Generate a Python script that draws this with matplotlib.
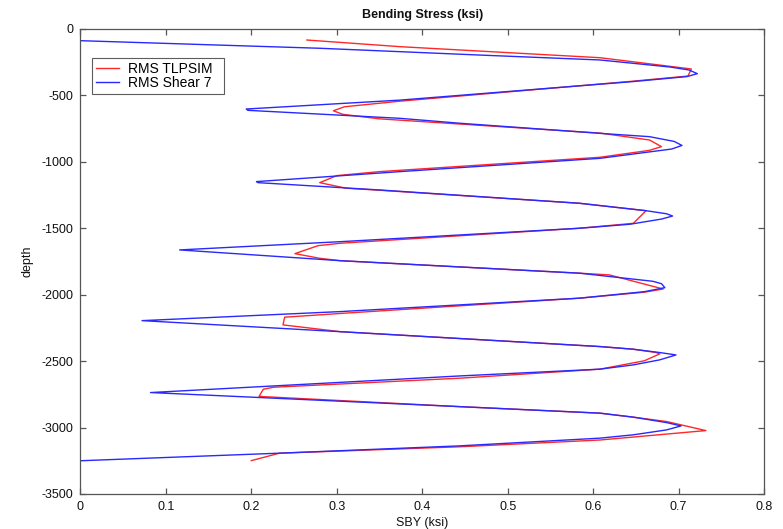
import matplotlib
matplotlib.use("Agg")
import matplotlib.pyplot as plt

plt.rcParams["font.family"] = ["Liberation Sans", "DejaVu Sans"]
plt.rcParams["axes.unicode_minus"] = False

# RMS bending stress profile from Shear 7
shear7_sby = [0.000, 0.280, 0.467, 0.608, 0.690, 0.712, 0.722, 0.710, 0.646, 0.374,
              0.194, 0.196, 0.374, 0.444, 0.608, 0.666, 0.695, 0.704, 0.692, 0.608,
              0.374, 0.206, 0.208, 0.350, 0.584, 0.662, 0.686, 0.693, 0.680, 0.643,
              0.584, 0.304, 0.116, 0.304, 0.584, 0.670, 0.680, 0.684, 0.660, 0.584,
              0.304, 0.072, 0.304, 0.608, 0.647, 0.678, 0.697, 0.678, 0.647, 0.608,
              0.444, 0.082, 0.444, 0.608, 0.647, 0.686, 0.703, 0.686, 0.647, 0.608,
              0.444, 0.233, 0.000]
shear7_depth = [-90, -147, -198, -235, -288, -310, -338, -360, -398, -537,
                -604, -614, -674, -711, -787, -812, -848, -878, -905, -975,
                -1075, -1150, -1158, -1213, -1313, -1369, -1392, -1409, -1432, -1471,
                -1501, -1602, -1664, -1745, -1839, -1900, -1918, -1948, -1978, -2027,
                -2128, -2196, -2279, -2391, -2411, -2436, -2454, -2491, -2529, -2561,
                -2612, -2737, -2843, -2892, -2922, -2963, -2988, -3018, -3055, -3080,
                -3138, -3193, -3250]

# RMS bending stress profile from TLPSIM
tlpsim_sby = [0.265, 0.374, 0.608, 0.709, 0.715, 0.711, 0.646, 0.374, 0.309, 0.296,
              0.307, 0.350, 0.608, 0.666, 0.680, 0.666, 0.608, 0.350, 0.300, 0.280,
              0.311, 0.350, 0.584, 0.662, 0.647, 0.584, 0.304, 0.278, 0.251, 0.280,
              0.304, 0.584, 0.619, 0.682, 0.660, 0.584, 0.309, 0.239, 0.237, 0.304,
              0.608, 0.647, 0.674, 0.678, 0.660, 0.608, 0.444, 0.226, 0.214, 0.209,
              0.444, 0.608, 0.647, 0.686, 0.732, 0.608, 0.444, 0.233, 0.200]
tlpsim_depth = [-85, -135, -218, -298, -303, -356, -395, -545, -587, -617,
                -644, -678, -785, -837, -887, -915, -967, -1075, -1105, -1158,
                -1200, -1215, -1313, -1369, -1464, -1501, -1614, -1632, -1692, -1727,
                -1745, -1839, -1852, -1958, -1982, -2027, -2140, -2170, -2228, -2279,
                -2391, -2411, -2436, -2446, -2498, -2561, -2629, -2697, -2712, -2766,
                -2843, -2892, -2922, -2955, -3023, -3094, -3145, -3193, -3249]

x_ticks = [0, 0.1, 0.2, 0.3, 0.4, 0.5, 0.6, 0.7, 0.8]
x_tick_labels = ["0", "0.1", "0.2", "0.3", "0.4", "0.5", "0.6", "0.7", "0.8"]
y_ticks = [0, -500, -1000, -1500, -2000, -2500, -3000, -3500]
y_tick_labels = ["0", "-500", "-1000", "-1500", "-2000", "-2500", "-3000", "-3500"]

fig = plt.figure(figsize=(7.83, 5.29), dpi=100)
ax = fig.add_axes([0.1028, 0.0662, 0.8729, 0.8795])

ax.plot(tlpsim_sby, tlpsim_depth, color="#ff2828", lw=1.0, label="RMS TLPSIM  ")
ax.plot(shear7_sby, shear7_depth, color="#2828ff", lw=1.0, label="RMS Shear 7  ")

ax.set_xlim(0, 0.8)
ax.set_ylim(-3500, 0)
ax.set_xticks(x_ticks)
ax.set_xticklabels(x_tick_labels)
ax.set_yticks(y_ticks)
ax.set_yticklabels(y_tick_labels)

frame_color = "#555555"
for sp in ax.spines.values():
    sp.set_color(frame_color)
    sp.set_linewidth(0.9)
ax.tick_params(direction="in", length=4, width=0.9, color=frame_color,
               top=True, right=True, labelsize=9, pad=5, labelcolor="#111111")

ax.set_title("Bending Stress (ksi)", fontsize=9, fontweight="bold", pad=8, color="#111111")
ax.set_xlabel("SBY (ksi)", fontsize=9, labelpad=3, color="#111111")
ax.set_ylabel("depth", fontsize=9, labelpad=6, color="#111111")

leg = ax.legend(loc="upper left", bbox_to_anchor=(0.0164, 0.937), fontsize=10,
                frameon=True, fancybox=False, edgecolor="#333333",
                borderaxespad=0, handlelength=1.7, handletextpad=0.6,
                borderpad=0.3, labelspacing=0.0)
leg.get_frame().set_linewidth(0.8)

fig.savefig("out.png", dpi=100)
